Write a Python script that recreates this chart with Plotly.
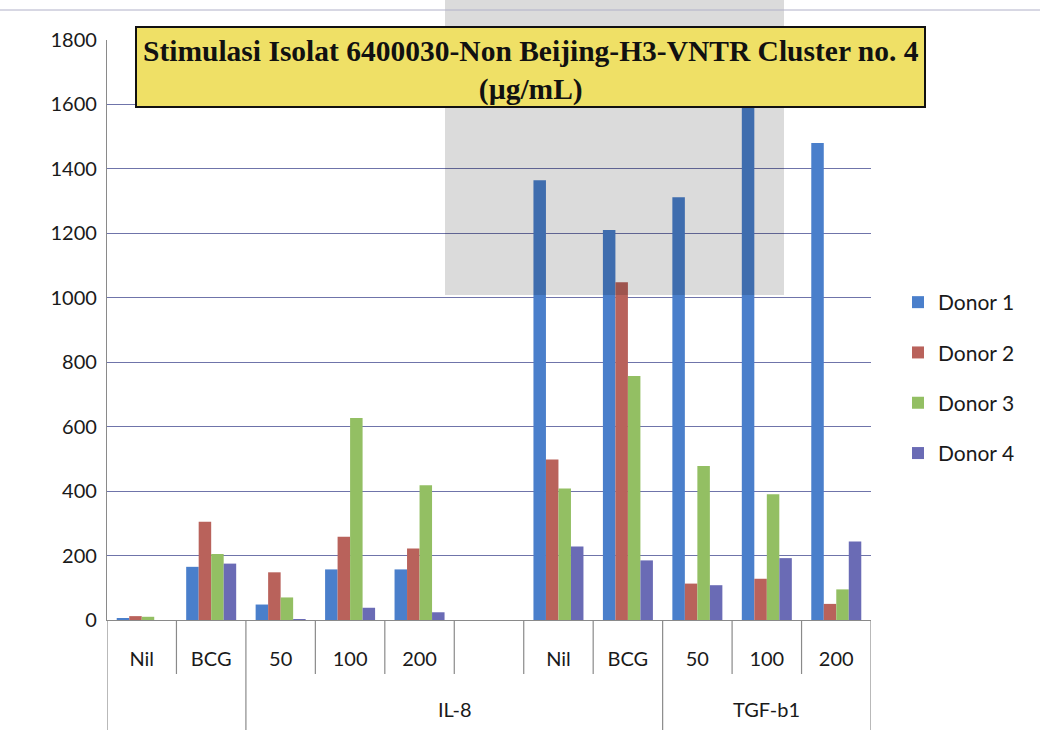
import plotly.graph_objects as go

# Stimulation categories (inner axis row) and their outer group labels
categories = ["Nil", "BCG", "50", "100", "200", "", "Nil", "BCG", "50", "100", "200"]
groups = ["", "", "IL-8", "IL-8", "IL-8", "IL-8", "IL-8", "IL-8", "TGF-b1", "TGF-b1", "TGF-b1"]

donor1 = [6, 165, 48, 157, 157, None, 1365, 1210, 1312, 1640, 1480]
donor2 = [12, 305, 148, 258, 222, None, 498, 1048, 113, 128, 50]
donor3 = [10, 205, 70, 627, 418, None, 408, 757, 478, 390, 95]
donor4 = [0, 175, 3, 38, 24, None, 228, 185, 108, 192, 244]

series_names = ["Donor 1", "Donor 2", "Donor 3", "Donor 4"]
series_values = [donor1, donor2, donor3, donor4]
colors = ["#4a7fcb", "#b9625b", "#93bf63", "#6a6bb5"]

title_text = "Stimulasi Isolat 6400030-Non Beijing-H3-VNTR Cluster no. 4<br>(µg/mL)"

x_idx = list(range(len(categories)))

fig = go.Figure()
for i, (name, vals, col) in enumerate(zip(series_names, series_values, colors)):
    fig.add_trace(go.Bar(
        x=x_idx, y=vals, name=name, marker_color=col,
        marker_line_width=0, legendgroup=name,
    ))

# Plot-area geometry in pixels (used to place decorations in paper units)
W, H = 1040, 739
L, R, T, B = 107, 871, 40, 620
pw, ph = R - L, B - T

def px_x(px):
    return (px - L) / pw

def px_y(py):
    return (B - py) / ph

shapes = []
annotations = []

# Category boundary lines below the axis: long at group edges, short otherwise
short_y = px_y(674)
long_y = px_y(730)
edges = set([-0.5, len(categories) - 0.5])
for k in range(1, len(groups)):
    if groups[k] != groups[k - 1]:
        edges.add(k - 0.5)
for k in range(len(categories) + 1):
    xb = k - 0.5
    y1 = long_y if xb in edges else short_y
    shapes.append(dict(type="line", xref="x", yref="paper", x0=xb, x1=xb,
                       y0=0, y1=y1, line=dict(color="#8a8a8a", width=1.2)))

# Outer group labels centred under their categories
seen = []
for g in groups:
    if g and g not in seen:
        seen.append(g)
for g in seen:
    members = [k for k, gg in enumerate(groups) if gg == g]
    xc = (members[0] + members[-1]) / 2
    annotations.append(dict(x=xc, xref="x", y=px_y(709), yref="paper",
                            text=g, showarrow=False,
                            font=dict(family="Lato", size=20, color="#1a1a1a"),
                            xanchor="center", yanchor="middle"))

# Grey translucent block across the upper middle
shapes.append(dict(type="rect", xref="paper", yref="paper",
                   x0=px_x(445), x1=px_x(784), y0=px_y(295), y1=px_y(0),
                   fillcolor="rgba(0,0,0,0.14)", line=dict(width=0), layer="above"))

# Yellow title box
shapes.append(dict(type="rect", xref="paper", yref="paper",
                   x0=px_x(136), x1=px_x(925), y0=px_y(107), y1=px_y(27),
                   fillcolor="#efe066", line=dict(color="#111111", width=2),
                   layer="above"))
annotations.append(dict(x=px_x(531), y=px_y(70), xref="paper", yref="paper",
                        text="<b>" + title_text.replace("<br>", "</b><br><b>") + "</b>",
                        showarrow=False,
                        xanchor="center", yanchor="middle",
                        font=dict(family="Liberation Serif", size=29.5, color="#111111"),
                        ))

# Thin page line along the top
shapes.append(dict(type="line", xref="paper", yref="paper",
                   x0=px_x(0), x1=px_x(W), y0=px_y(10), y1=px_y(10),
                   line=dict(color="#b0b0c8", width=1)))

fig.update_layout(
    width=W, height=H,
    margin=dict(l=L, r=W - R, t=T, b=H - B, pad=0),
    paper_bgcolor="white", plot_bgcolor="white",
    barmode="group", bargap=0.28, bargroupgap=0,
    font=dict(family="Lato", size=20, color="#1a1a1a"),
    showlegend=True,
    legend=dict(x=px_x(898), y=px_y(378), xanchor="left", yanchor="middle",
                font=dict(family="Lato", size=21, color="#1a1a1a"),
                traceorder="grouped", tracegroupgap=20,
                bgcolor="rgba(0,0,0,0)"),
    shapes=shapes,
    annotations=annotations,
)

fig.update_xaxes(
    range=[-0.5, len(categories) - 0.5],
    tickmode="array", tickvals=x_idx, ticktext=categories,
    showgrid=False, zeroline=False,
    showline=True, linecolor="#8a8a8a", linewidth=1.2,
    ticks="", ticklabelstandoff=21,
    tickfont=dict(family="Lato", size=20, color="#1a1a1a"),
)
fig.update_yaxes(
    range=[0, 1800], dtick=200,
    showgrid=True, gridcolor="#6f74aa", gridwidth=1.2,
    zeroline=False,
    showline=True, linecolor="#8a8a8a", linewidth=1.2,
    ticks="", ticklabelstandoff=5,
    tickfont=dict(family="Lato", size=20, color="#1a1a1a"),
)

fig.write_html("out.html")
